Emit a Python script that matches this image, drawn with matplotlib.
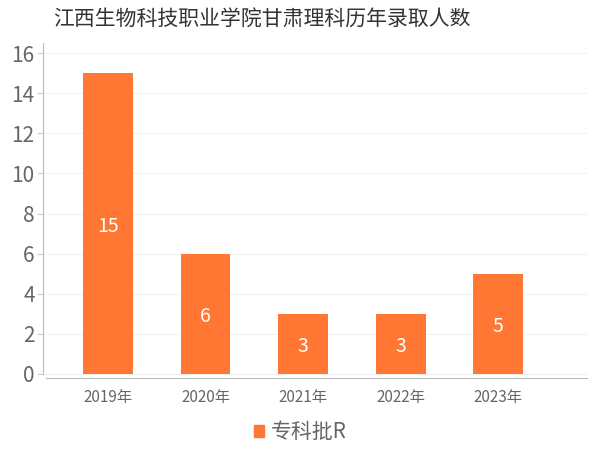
import matplotlib
matplotlib.use("Agg")
import matplotlib.pyplot as plt
from matplotlib.patches import Patch

plt.rcParams['font.family'] = ['Noto Sans CJK SC', 'DejaVu Sans']

years = ['2019年', '2020年', '2021年', '2022年', '2023年']
counts = [15, 6, 3, 3, 5]
series_name = '专科批R'

bar_color = '#FF7733'
text_gray = '#666666'

fig = plt.figure(figsize=(6, 4.5), dpi=100)
ax = fig.add_axes([43/600, 1 - 378/450, (587 - 43)/600, (378 - 43)/450])

x = list(range(len(years)))
bars = ax.bar(x, counts, width=0.51, color=bar_color, zorder=3)
for b, v in zip(bars, counts):
    ax.text(b.get_x() + b.get_width()/2, v/2 - 0.15, str(v), ha='center', va='center',
            color='white', fontsize=14, zorder=4)

ax.set_xlim(-0.667, 4.91)
ax.set_ylim(-0.2, 16.5)
ax.set_yticks(range(0, 17, 2))
ax.set_xticks(x)
ax.set_xticklabels(years, fontsize=11, color=text_gray)
ax.tick_params(axis='y', labelsize=15, labelcolor=text_gray, color='#cccccc', length=4, pad=2)
ax.tick_params(axis='x', length=0, pad=8)
ax.grid(axis='y', color='#f2f2f2', linewidth=0.8, zorder=0)

for s in ['top', 'right']:
    ax.spines[s].set_visible(False)
ax.spines['left'].set_color('#bbbbbb')
ax.spines['left'].set_bounds(0, 16.5)
ax.spines['bottom'].set_color('#bbbbbb')
ax.spines['bottom'].set_bounds(-0.64, 4.91)

# title is offset to the left in the original
fig.text(262/600, 1 - 20/450, '江西生物科技职业学院甘肃理科历年录取人数', ha='center', va='center',
         fontsize=15, color='#333333')

fig.legend(handles=[Patch(color=bar_color, label=series_name)], loc='center',
           bbox_to_anchor=(0.5, 1 - 432/450), frameon=False, fontsize=15,
           handlelength=0.5, handleheight=0.5, handletextpad=0.3, labelcolor=text_gray)

fig.savefig('out.png', dpi=100)
